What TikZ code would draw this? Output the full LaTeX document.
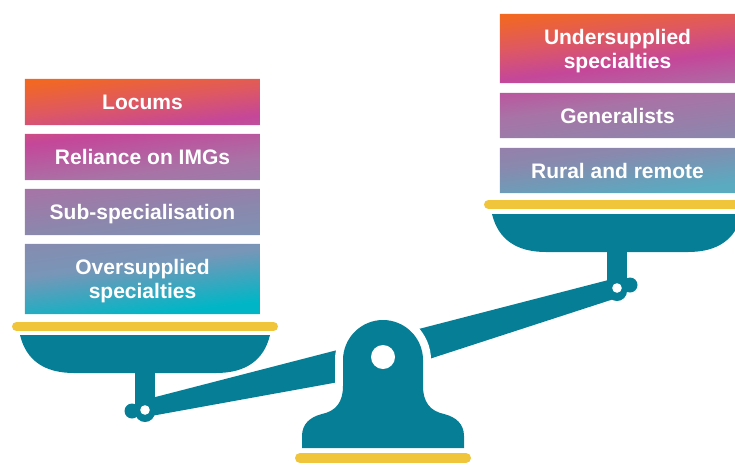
\documentclass[tikz,border=0pt]{standalone}
\usepackage{fontspec}
\setmainfont{Liberation Sans}
\usetikzlibrary{backgrounds}
\definecolor{tealA}{HTML}{067F96}
\definecolor{goldA}{HTML}{F0C53C}
\definecolor{cL0}{HTML}{F26822}
\definecolor{cLa}{HTML}{DE5862}
\definecolor{cL1}{HTML}{C4479A}
\definecolor{cL2}{HTML}{A873A6}
\definecolor{cL3}{HTML}{8A88AD}
\definecolor{cL4}{HTML}{7896B8}
\definecolor{cL5}{HTML}{00B6C6}
\definecolor{cR5}{HTML}{5AAAC0}
\pgfdeclareverticalshading{gradL}{100bp}{color(0bp)=(cL5); color(25bp)=(cL5); color(36bp)=(cL4); color(45bp)=(cL3); color(55bp)=(cL2); color(64bp)=(cL1); color(70bp)=(cLa); color(77bp)=(cL0); color(100bp)=(cL0)}
\pgfdeclareverticalshading{gradR}{100bp}{color(0bp)=(cR5); color(25bp)=(cR5); color(37bp)=(cL3); color(50bp)=(cL2); color(60bp)=(cL1); color(68bp)=(cLa); color(77bp)=(cL0); color(100bp)=(cL0)}
\begin{document}
\begin{tikzpicture}[x=1pt,y=-1pt,
  box/.style={minimum width=235pt, inner sep=0pt, text=white, align=center,
    font=\fontsize{21}{24}\selectfont\bfseries, text depth=0pt},
  metal/.style={fill=tealA},
  bar/.style={draw=goldA, line cap=round}]
\useasboundingbox (0,0) rectangle (735,464);
% beam
\fill[metal] (140,401) -- (620,277) -- (620,297) -- (383,374) -- (140,418) -- cycle;
% gap around fulcrum
\draw[white, line width=16pt] (343,394) -- (343,360) .. controls (343,338) and (361,320) .. (383,320) .. controls (405,320) and (423,338) .. (423,360) -- (423,394);
% fulcrum
\fill[metal] (302,448) -- (302,436) .. controls (302,424) and (310,417) .. (322,414) .. controls (336,411) and (343,402) .. (343,386) -- (343,360) .. controls (343,338) and (361,320) .. (383,320) .. controls (405,320) and (423,338) .. (423,360) -- (423,386) .. controls (423,402) and (430,411) .. (444,414) .. controls (456,417) and (464,424) .. (464,436) -- (464,448) -- cycle;
\fill[white] (383,357) circle[radius=12pt];
\draw[bar, line width=10pt] (300,458) -- (466,458);
% left stem and joint
\fill[metal] (135,370) rectangle (155,410);
\fill[metal] (145,412) circle[radius=10pt];
\fill[metal] (132,411) circle[radius=7.5pt];
\fill[white] (145,410) circle[radius=4.8pt];
% right stem and joint
\fill[metal] (607,248) rectangle (627,288);
\fill[metal] (617,291) circle[radius=10pt];
\fill[metal] (630,285) circle[radius=7.5pt];
\fill[white] (617,288) circle[radius=4.8pt];
% pans
\fill[metal] (20,335) .. controls (26,360) and (44,373) .. (74,373) -- (216,373) .. controls (246,373) and (264,360) .. (270,335) -- cycle;
\fill[metal] (492,214) .. controls (498,239) and (516,252) .. (546,252) -- (688,252) .. controls (718,252) and (736,239) .. (742,214) -- cycle;
\draw[bar, line width=9pt] (16.5,326.5) -- (273.5,326.5);
\draw[bar, line width=9pt] (488.5,204.5) -- (750,204.5);
% left boxes
\node[box, minimum height=46pt] (locums) at (142.5,102) {Locums};
\node[box, minimum height=46pt] (img) at (142.5,157) {Reliance on IMGs};
\node[box, minimum height=46pt] (subsp) at (142.5,212) {Sub-specialisation};
\node[box, minimum height=70pt] (over) at (142.5,279) {Oversupplied\\specialties};
% right boxes
\node[box, minimum height=69pt] (under) at (617.5,48.5) {Undersupplied\\specialties};
\node[box, minimum height=45pt] (gen) at (617.5,115.5) {Generalists};
\node[box, minimum height=45pt] (rural) at (617.5,170.5) {Rural and remote};
\begin{scope}[on background layer]
  \begin{scope}
    \clip (locums.north west) rectangle (locums.south east)
          (img.north west) rectangle (img.south east)
          (subsp.north west) rectangle (subsp.south east)
          (over.north west) rectangle (over.south east);
    \shade[shading=gradL, shading angle=7] (locums.north west) rectangle (over.south east);
  \end{scope}
  \begin{scope}
    \clip (under.north west) rectangle (under.south east)
          (gen.north west) rectangle (gen.south east)
          (rural.north west) rectangle (rural.south east);
    \shade[shading=gradR, shading angle=7] (under.north west) rectangle (rural.south east);
  \end{scope}
\end{scope}
\end{tikzpicture}
\end{document}
